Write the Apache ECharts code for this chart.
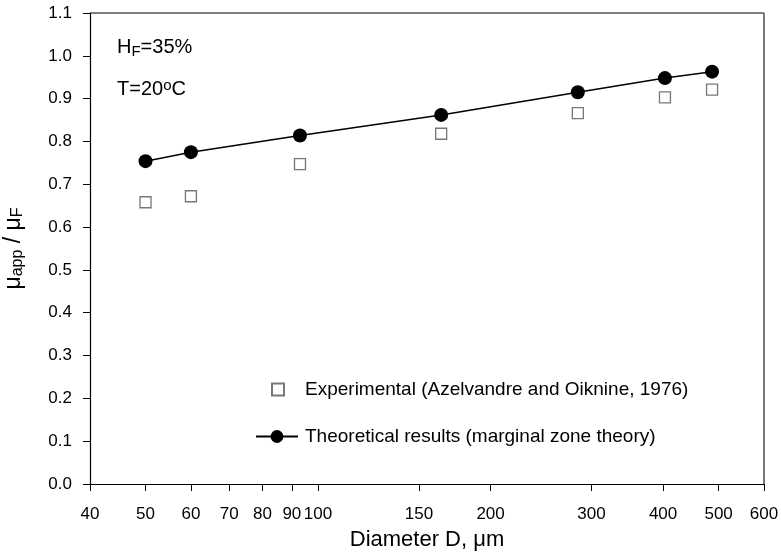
<!DOCTYPE html>
<html>
<head>
<meta charset="utf-8">
<script src="https://cdn.jsdelivr.net/npm/echarts@6/dist/echarts.min.js"></script>
<style>html,body{margin:0;padding:0;background:#fff}#c{width:781px;height:553px}</style>
</head>
<body>
<div id="c"></div>
<script>
// Data
const diameters = [50, 60, 93, 164, 284, 403, 487];
const theoretical = [0.754, 0.775, 0.814, 0.862, 0.915, 0.948, 0.963];
const experimental = [0.658, 0.672, 0.747, 0.818, 0.866, 0.903, 0.921];
const xTickValues = [40, 50, 60, 70, 80, 90, 100, 150, 200, 300, 400, 500, 600];
const seriesNames = ['Experimental (Azelvandre and Oiknine, 1976)', 'Theoretical results (marginal zone theory)'];

const FONT = 'Liberation Sans, Arial, Helvetica, sans-serif';
const chart = echarts.init(document.getElementById('c'), null, {renderer: 'canvas'});
const legendText = {fontFamily: FONT, fontSize: 19, color: '#000'};
const option = {
  animation: false,
  backgroundColor: '#fff',
  grid: {left: 90, right: 17, top: 13, bottom: 69, show: false, containLabel: false, outerBoundsMode: 'none'},
  xAxis: {
    type: 'log', min: 40, max: 600, logBase: 10,
    name: 'Diameter D, μm', nameLocation: 'middle', nameGap: 45,
    nameTextStyle: {fontFamily: FONT, fontSize: 22, color: '#000'},
    axisLine: {show: true, onZero: false, lineStyle: {color: '#000', width: 1.2}},
    axisTick: {show: true, inside: false, length: 7, customValues: xTickValues, lineStyle: {color: '#000'}},
    axisLabel: {customValues: xTickValues, fontFamily: FONT, fontSize: 17, color: '#000', margin: 22, formatter: v => String(Math.round(v))},
    splitLine: {show: false}, minorTick: {show: false}
  },
  yAxis: {
    type: 'value', min: 0, max: 1.1, interval: 0.1,
    name: 'μ{sub|app} / μ{sub|F}', nameLocation: 'middle', nameGap: 64, nameRotate: 90,
    nameTextStyle: {fontFamily: FONT, fontSize: 23, color: '#000',
      rich: {sub: {fontFamily: FONT, fontSize: 16, color: '#000', verticalAlign: 'bottom', padding: [9, 0, 0, 0]}}},
    axisLine: {show: true, lineStyle: {color: '#000', width: 1.2}},
    axisTick: {show: true, inside: false, length: 7, lineStyle: {color: '#000'}},
    axisLabel: {fontFamily: FONT, fontSize: 17, color: '#000', margin: 18, formatter: v => v.toFixed(1)},
    splitLine: {show: false}
  },
  legend: [
    {
      orient: 'vertical', left: 266, top: 375,
      itemWidth: 12, itemHeight: 12,
      data: [seriesNames[0]],
      textStyle: Object.assign({padding: [0, 0, 0, 16]}, legendText),
      selectedMode: false
    },
    {
      orient: 'vertical', left: 250, top: 422,
      itemWidth: 42, itemHeight: 16,
      data: [seriesNames[1]],
      textStyle: Object.assign({padding: [0, 0, 0, 2]}, legendText),
      selectedMode: false
    }
  ],
  graphic: [
    {type: 'line', shape: {x1: 90, y1: 13, x2: 764, y2: 13}, style: {stroke: '#000', lineWidth: 1.2}, silent: true},
    {type: 'line', shape: {x1: 764, y1: 13, x2: 764, y2: 484}, style: {stroke: '#777', lineWidth: 2}, silent: true},
    {type: 'text', left: 117, top: 37, style: {text: 'H{sub|F}=35%', fontFamily: FONT, fontSize: 20, fill: '#000',
      rich: {sub: {fontFamily: FONT, fontSize: 15, fill: '#000', verticalAlign: 'bottom', padding: [9, 0, 0, 0]}}}},
    {type: 'text', left: 117, top: 78, style: {text: 'T=20{sup|o}C', fontFamily: FONT, fontSize: 20, fill: '#000',
      rich: {sup: {fontFamily: FONT, fontSize: 15, fill: '#000', verticalAlign: 'top', padding: [0, 0, 8, 0]}}}}
  ],
  series: [
    {
      name: seriesNames[0], type: 'scatter',
      data: diameters.map((d, i) => [d, experimental[i]]),
      symbol: 'rect', symbolSize: 11,
      itemStyle: {color: '#fff', borderColor: '#555', borderWidth: 1.3},
      z: 3
    },
    {
      name: seriesNames[1], type: 'line',
      data: diameters.map((d, i) => [d, theoretical[i]]),
      symbol: 'circle', symbolSize: 14, showSymbol: true,
      lineStyle: {color: '#000', width: 1.5},
      itemStyle: {color: '#000'},
      z: 4
    }
  ]
};
chart.setOption(option);
</script>
</body>
</html>
